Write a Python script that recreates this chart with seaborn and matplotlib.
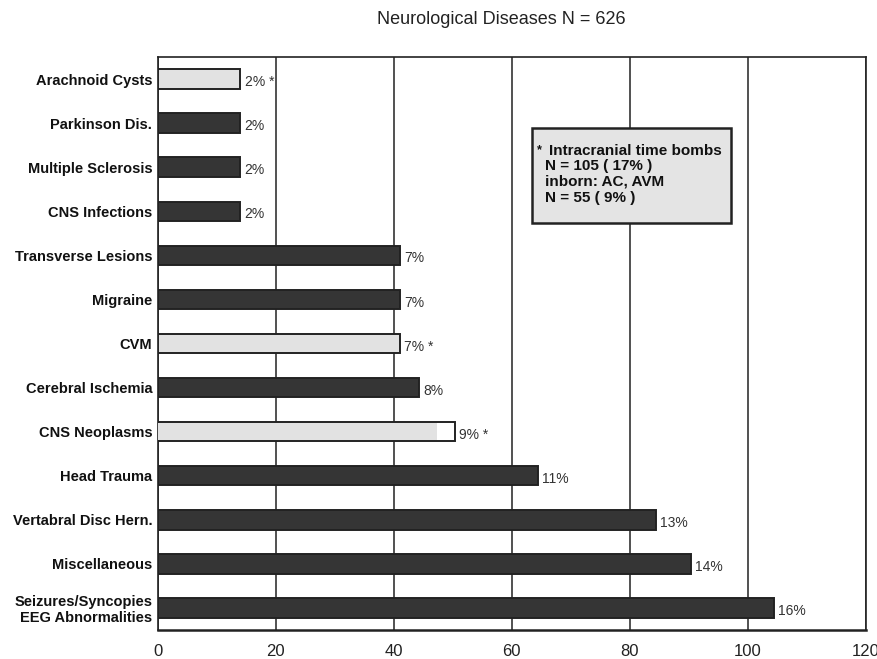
import matplotlib
matplotlib.use("Agg")
import matplotlib.pyplot as plt
from matplotlib.patches import Rectangle
from matplotlib.ticker import FixedLocator
import seaborn as sns
import pandas as pd

# Neurological diagnoses in a cohort of 626 patients
categories = [
    "Arachnoid Cysts", "Parkinson Dis.", "Multiple Sclerosis", "CNS Infections",
    "Transverse Lesions", "Migraine", "CVM", "Cerebral Ischemia", "CNS Neoplasms",
    "Head Trauma", "Vertabral Disc Hern.", "Miscellaneous",
    "Seizures/Syncopies\nEEG Abnormalities",
]
counts = [14, 14, 14, 14, 41, 41, 41, 44.3, 50.3, 64.5, 84.4, 90.4, 104.4]
pct_labels = ["2% *", "2%", "2%", "2%", "7%", "7%", "7% *", "8%", "9% *",
              "11%", "13%", "14%", "16%"]
# "time bomb" groups are drawn light
time_bomb = [True, False, False, False, False, False, True, False, True,
             False, False, False, False]
# inborn share of CNS Neoplasms, shaded inside its bar
neoplasm_shaded = 47.3
x_ticks = [0, 20, 40, 60, 80, 100, 120]
note_lines = ["N = 105 ( 17% )", "inborn: AC, AVM", "N = 55 ( 9% )"]

DARK = "#353535"
LIGHT = "#e2e2e2"

sns.set_style("white")
plt.rcParams["font.family"] = ["Liberation Sans", "DejaVu Sans"]

df = pd.DataFrame({"category": categories, "count": counts})
face = {c: ("white" if c == "CNS Neoplasms" else (LIGHT if tb else DARK))
        for c, tb in zip(categories, time_bomb)}

fig = plt.figure(figsize=(8.77, 6.59), dpi=100)
ax = fig.add_axes([0.180, 0.044, 0.807, 0.8695])

sns.barplot(data=df, x="count", y="category", hue="category", palette=face,
            legend=False, orient="h", width=0.44, edgecolor="#222222",
            linewidth=1.4, ax=ax, zorder=3)

# shaded portion of the CNS Neoplasms bar
shade_df = pd.DataFrame({"category": categories,
                         "count": [neoplasm_shaded if c == "CNS Neoplasms" else 0
                                   for c in categories]})
sns.barplot(data=shade_df, x="count", y="category", color=LIGHT, orient="h",
            width=0.40, linewidth=0, ax=ax, zorder=4)

for i, (v, lab) in enumerate(zip(counts, pct_labels)):
    ax.text(v + 0.7, i + 0.07, lab, va="center", ha="left", fontsize=10,
            color="#333333", zorder=5)

ax.set_xlim(0, 120)
ax.set_ylim(len(categories) - 0.5, -0.5)
ax.set_xticks(x_ticks)
ax.set_xticklabels([str(t) for t in x_ticks], fontsize=12, color="#222222")
ax.set_xlabel("")
ax.set_ylabel("")
ax.set_yticks(range(len(categories)))
ax.set_yticklabels(categories, fontsize=10.5, fontweight="bold", color="#111111",
                   linespacing=1.15)
ax.yaxis.set_minor_locator(FixedLocator([i + 0.5 for i in range(len(categories) - 1)]))
ax.tick_params(axis="y", which="major", length=0, pad=4)
ax.tick_params(axis="y", which="minor", length=4, width=1, color="#333333",
               direction="out")
ax.tick_params(axis="x", which="major", length=5, width=1.2, color="#333333",
               direction="out", pad=5)
ax.xaxis.grid(True, color="#333333", linewidth=1.2, zorder=0)
ax.yaxis.grid(False)
for side, sp in ax.spines.items():
    sp.set_visible(True)
    sp.set_color("#222222")
    sp.set_linewidth(1.2)
ax.spines["bottom"].set_linewidth(1.8)

# note box explaining the starred bars
ax.add_patch(Rectangle((63.4, 1.11), 33.7, 2.16, facecolor="#e4e4e4",
                       edgecolor="#222222", linewidth=1.8, zorder=6))
ax.text(64.3, 1.63, "* ", fontsize=9, fontweight="bold", color="#111111",
        va="center", ha="left", zorder=7)
ax.text(66.3, 1.63, "Intracranial time bombs", fontsize=11, fontweight="bold",
        color="#111111", va="center", ha="left", zorder=7)
for k, line in enumerate(note_lines):
    ax.text(65.7, 1.97 + 0.36 * k, line, fontsize=11, fontweight="bold",
            color="#111111", va="center", ha="left", zorder=7)

fig.text(0.572, 0.971, "Neurological Diseases N = 626", ha="center",
         va="center", fontsize=13, color="#222222")

fig.savefig("out.png", dpi=100, facecolor="white")
